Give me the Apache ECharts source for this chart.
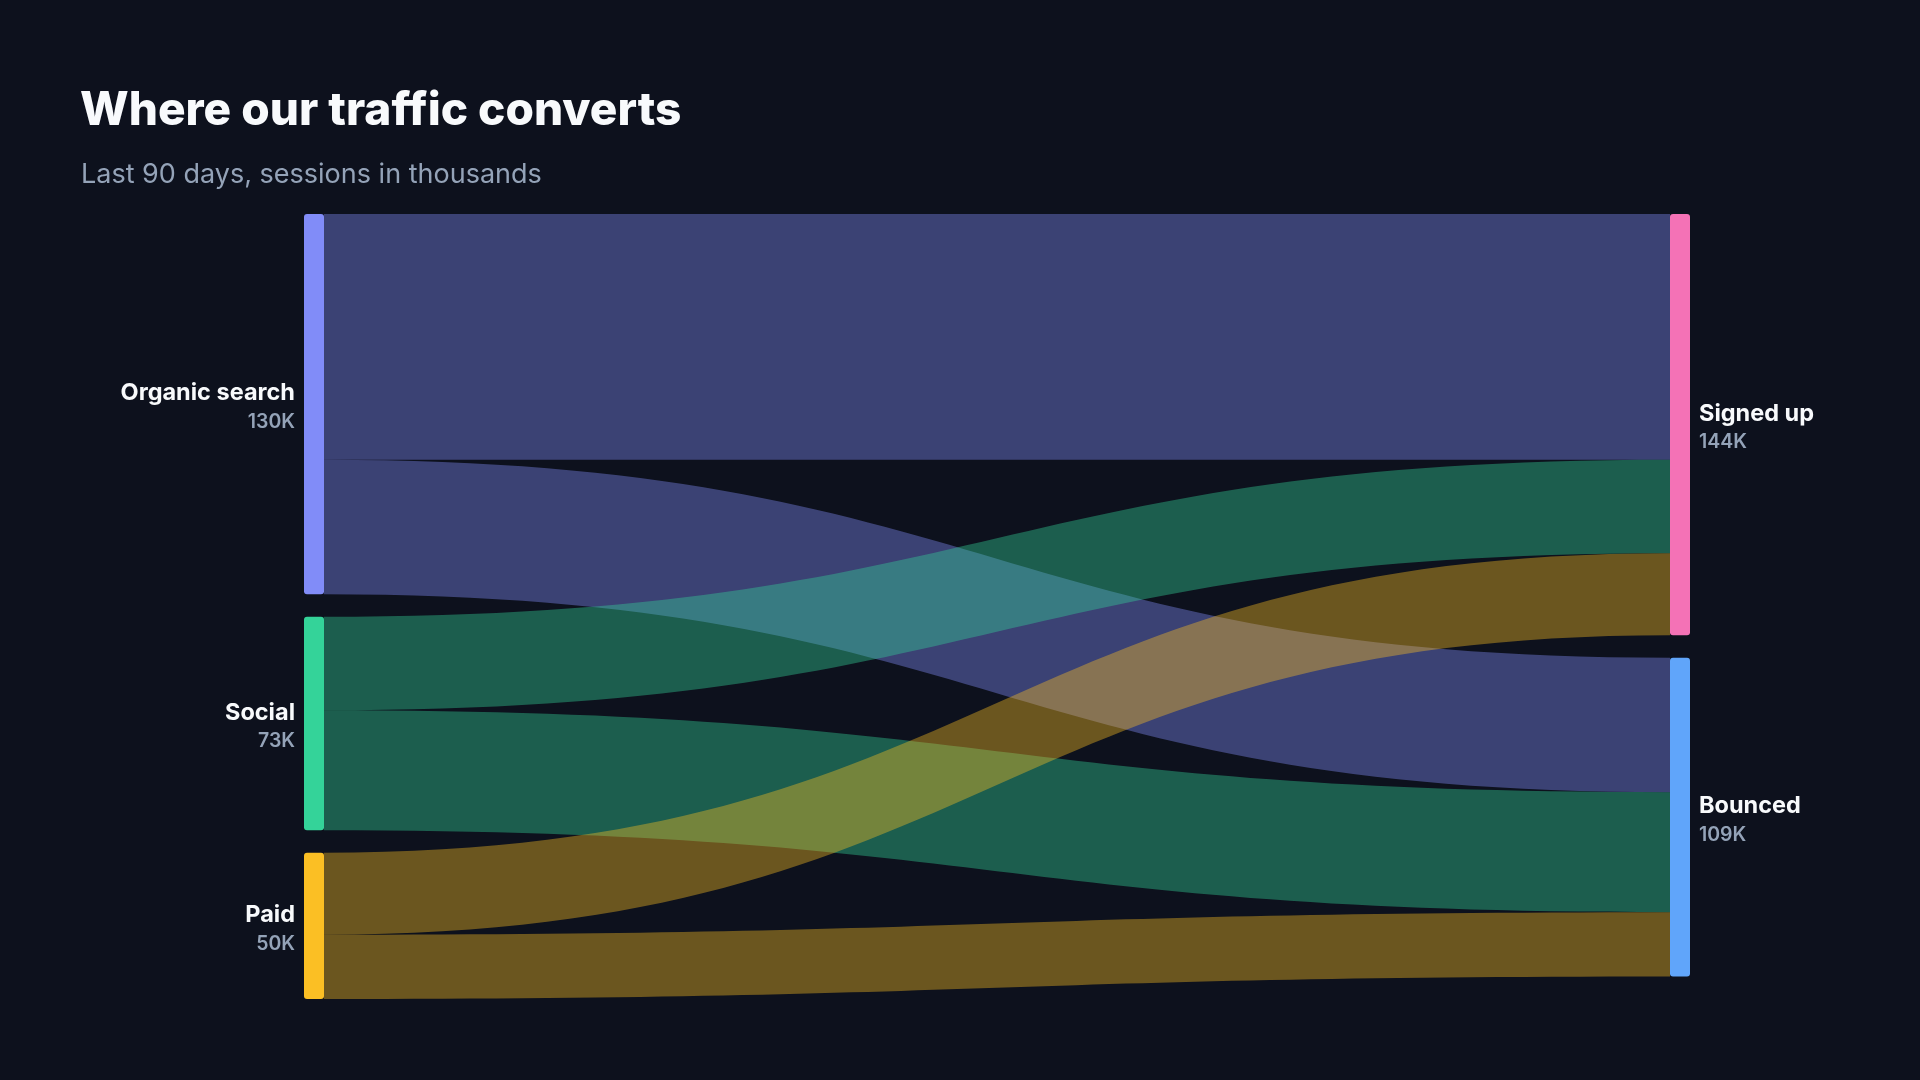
<!DOCTYPE html>
<html>
<head>
<meta charset="utf-8">
<script src="https://cdn.jsdelivr.net/npm/echarts@6/dist/echarts.min.js"></script>
<style>
html,body{margin:0;padding:0;background:#0d111d;}
#c{width:1920px;height:1080px;}
</style>
</head>
<body>
<div id="c"></div>
<script>
const sources = ['Organic search', 'Social', 'Paid'];
const targets = ['Signed up', 'Bounced'];
const toSignedUp = [84, 32, 28];
const toBounced = [46, 41, 22];
const sourceColors = ['#818cf8', '#34d399', '#fbbf24'];
const targetColors = ['#f472b6', '#60a5fa'];

const nodes = [];
sources.forEach((s, i) => nodes.push({
  name: s,
  itemStyle: { color: sourceColors[i] },
  label: { position: 'left' }
}));
targets.forEach((t, i) => nodes.push({
  name: t,
  itemStyle: { color: targetColors[i] },
  label: { position: 'right' }
}));

const links = [];
sources.forEach((s, i) => {
  links.push({ source: s, target: targets[0], value: toSignedUp[i] });
  links.push({ source: s, target: targets[1], value: toBounced[i] });
});

const chart = echarts.init(document.getElementById('c'), null, { renderer: 'canvas' });
chart.setOption({
  backgroundColor: '#0d111d',
  animation: false,
  title: [
    {
      text: 'Where our traffic converts',
      left: 75,
      top: 83,
      textStyle: {
        fontFamily: 'Inter',
        fontWeight: 800,
        fontSize: 46,
        color: '#f8fafc'
      }
    },
    {
      text: 'Last 90 days, sessions in thousands',
      left: 76,
      top: 156,
      textStyle: {
        fontFamily: 'Inter',
        fontWeight: 400,
        fontSize: 27,
        color: '#94a3b8'
      }
    }
  ],
  series: [{
    type: 'sankey',
    left: 304,
    right: 230,
    top: 214,
    bottom: 81,
    nodeWidth: 20,
    nodeGap: 22.5,
    layoutIterations: 0,
    nodeAlign: 'justify',
    draggable: false,
    emphasis: { disabled: true },
    itemStyle: { borderWidth: 0, borderRadius: 3 },
    lineStyle: { color: 'source', opacity: 0.4, curveness: 0.5 },
    label: {
      distance: 9,
      offset: [0, 3],
      formatter: function (p) { return '{n|' + p.name + '}\n{v|' + p.value + 'K}'; },
      rich: {
        n: { fontFamily: 'Inter', fontWeight: 700, fontSize: 23.5, color: '#f8fafc', lineHeight: 30 },
        v: { fontFamily: 'Inter', fontWeight: 600, fontSize: 19.5, color: '#94a3b8', lineHeight: 28 }
      }
    },
    data: nodes,
    links: links
  }]
});
</script>
</body>
</html>
